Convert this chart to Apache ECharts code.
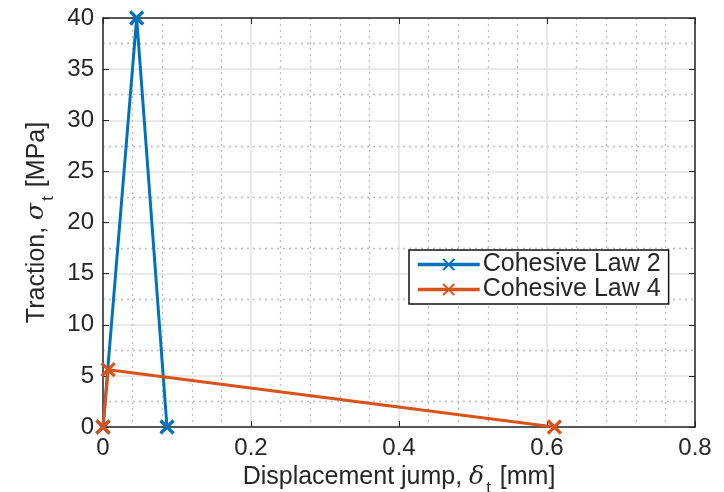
<!DOCTYPE html>
<html>
<head>
<meta charset="utf-8">
<script src="https://cdn.jsdelivr.net/npm/echarts@6/dist/echarts.min.js"></script>
<style>html,body{margin:0;padding:0;background:#fff;}#c{width:724px;height:492px;}</style>
</head>
<body>
<div id="c"></div>
<script>
const seriesNames = ['Cohesive Law 2', 'Cohesive Law 4'];
const law2 = [[0, 0], [0.0455, 40], [0.0865, 0]];
const law4 = [[0, 0], [0.007, 5.6], [0.61, 0]];
const xTicks = [0, 0.2, 0.4, 0.6, 0.8];
const yTicks = [0, 5, 10, 15, 20, 25, 30, 35, 40];

const FONT = '"Liberation Sans", Arial, Helvetica, sans-serif';
const TXT = '#262626';
const colors = ['#0072BD', '#D95319'];
const cross = 'path://M0,0L10,10M10,0L0,10';
const chart = echarts.init(document.getElementById('c'), null, {renderer: 'canvas'});

function mkSeries(name, data, color) {
  return {
    name: name, type: 'line', data: data,
    symbol: cross, symbolSize: 13,
    lineStyle: {color: color, width: 3},
    itemStyle: {color: color, borderColor: color, borderWidth: 3.2},
    emphasis: {disabled: true}, animation: false
  };
}

const tickCommon = {inside: true, length: 6, lineStyle: {color: TXT, width: 1}};
const richName = {
  g: {fontSize: 25, color: TXT, fontStyle: 'italic', fontFamily: '"DejaVu Serif", "Liberation Serif", serif'},
  s: {fontSize: 17, color: TXT, verticalAlign: 'bottom', padding: [22, 2, 0, 2], fontFamily: FONT}
};
const majorSplit = {show: true, lineStyle: {color: '#e2e2e2', width: 1.5}};
const minorSplit = {show: true, lineStyle: {color: '#bdbdbd', type: [2, 4], width: 1.3}};

chart.setOption({
  animation: false,
  textStyle: {fontFamily: FONT},
  grid: {left: 103, right: 29, top: 18, bottom: 65, show: false, containLabel: false, outerBoundsMode: 'none'},
  legend: {
    orient: 'vertical', left: 409, top: 250,
    data: seriesNames.map((n, i) => ({name: n, lineStyle: {width: 3.5, color: colors[i]}})),
    backgroundColor: '#fff', borderColor: '#111', borderWidth: 1.5,
    padding: [2, 8, 2, 7], itemGap: 0, itemWidth: 62, itemHeight: 14,
    textStyle: {fontSize: 25, color: TXT, fontFamily: FONT, padding: [0, 0, 0, -2]}
  },
  xAxis: [{
    type: 'value', min: 0, max: 0.8, interval: 0.2,
    name: 'Displacement jump, {g|δ}{s|t} [mm]', nameLocation: 'middle', nameGap: 24,
    nameTextStyle: {fontSize: 25, color: TXT, fontFamily: FONT, rich: richName},
    axisLine: {show: true, onZero: false, lineStyle: {color: TXT, width: 1.5}},
    axisTick: tickCommon,
    axisLabel: {fontSize: 24, color: TXT, margin: 9, formatter: v => xTicks.includes(+v.toFixed(1)) ? String(+v.toFixed(1)) : ''},
    splitLine: majorSplit,
    minorTick: {show: false, splitNumber: 5},
    minorSplitLine: minorSplit
  }, {
    type: 'value', min: 0, max: 0.8, interval: 0.2, position: 'top',
    axisLine: {show: true, onZero: false, lineStyle: {color: TXT, width: 1.5}},
    axisTick: tickCommon, axisLabel: {show: false}, splitLine: {show: false}
  }],
  yAxis: [{
    type: 'value', min: 0, max: 40, interval: 5,
    name: 'Traction, {g|σ}{s|t} [MPa]', nameLocation: 'middle', nameGap: 46,
    nameTextStyle: {fontSize: 25, color: TXT, fontFamily: FONT, rich: richName},
    axisLine: {show: true, onZero: false, lineStyle: {color: TXT, width: 1.5}},
    axisTick: tickCommon,
    axisLabel: {fontSize: 24, color: TXT, margin: 9, formatter: v => yTicks.includes(v) ? String(v) : ''},
    splitLine: majorSplit,
    minorTick: {show: false, splitNumber: 2},
    minorSplitLine: minorSplit
  }, {
    type: 'value', min: 0, max: 40, interval: 5, position: 'right',
    axisLine: {show: true, onZero: false, lineStyle: {color: TXT, width: 1.5}},
    axisTick: tickCommon, axisLabel: {show: false}, splitLine: {show: false}
  }],
  series: [
    mkSeries(seriesNames[0], law2, colors[0]),
    mkSeries(seriesNames[1], law4, colors[1])
  ]
});
</script>
</body>
</html>
